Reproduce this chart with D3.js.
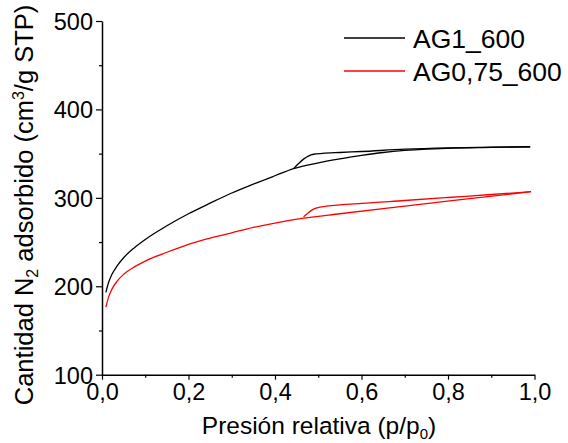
<!DOCTYPE html>
<html>
<head>
<meta charset="utf-8">
<script src="https://cdn.jsdelivr.net/npm/d3@7"></script>
<style>
  html, body { margin: 0; padding: 0; background: #fff; }
  svg { display: block; font-family: "Liberation Sans", Arial, sans-serif; }
</style>
</head>
<body>
<svg id="chart" width="568" height="443"></svg>
<script>
// ---- Data ----
const seriesNames = ["AG1_600", "AG0,75_600"];
const seriesColors = ["#000000", "#ff0000"];

// AG1_600 adsorption branch
const ag1AdsP = [0.009, 0.015, 0.023, 0.035, 0.05, 0.075, 0.1, 0.15, 0.2, 0.25, 0.3, 0.35, 0.4, 0.443, 0.5, 0.55, 0.6, 0.65, 0.7, 0.75, 0.8, 0.9, 0.99];
const ag1AdsV = [193.2, 204, 213.5, 223, 232.3, 243.7, 253, 268.4, 282, 294, 305.5, 315.5, 325, 333, 339.5, 344, 348, 351.3, 353.6, 355.1, 356, 357, 357.8];
// AG1_600 desorption branch
const ag1DesP = [0.443, 0.454, 0.466, 0.478, 0.489, 0.51, 0.55, 0.6, 0.7, 0.8, 0.9, 0.99];
const ag1DesV = [333, 338.5, 343.8, 347.5, 349.3, 350.3, 351.3, 352.4, 355, 356.5, 357.3, 357.8];

// AG0,75_600 adsorption branch
const ag075AdsP = [0.009, 0.015, 0.023, 0.035, 0.05, 0.075, 0.1, 0.15, 0.2, 0.25, 0.3, 0.35, 0.4, 0.466, 0.55, 0.65, 0.75, 0.85, 0.992];
const ag075AdsV = [176.5, 187.5, 196.8, 205.8, 213.5, 222, 228.5, 238.5, 247.5, 254.5, 260.5, 266.5, 271.5, 277, 282, 287.8, 293.4, 299.1, 307];
// AG0,75_600 desorption branch
const ag075DesP = [0.466, 0.478, 0.489, 0.5, 0.512, 0.6, 0.7, 0.8, 0.9, 0.992];
const ag075DesV = [278.7, 283.5, 287.2, 289, 290, 293.7, 297, 300.4, 303.8, 307];

const xTicks = [0, 0.2, 0.4, 0.6, 0.8, 1.0];
const xMinorTicks = [0.1, 0.3, 0.5, 0.7, 0.9];
const yTicks = [100, 200, 300, 400, 500];
const yMinorTicks = [150, 250, 350, 450];

// ---- Layout ----
const svg = d3.select("#chart");
const x = d3.scaleLinear().domain([0, 1]).range([102, 534.5]);
const y = d3.scaleLinear().domain([100, 500]).range([374.7, 21]);
const fmt = d => d3.format(".1f")(d).replace(".", ",");

// minor ticks
svg.append("g")
  .attr("transform", `translate(0,${y(100)})`)
  .call(d3.axisBottom(x).tickValues(xMinorTicks).tickSize(3).tickFormat(""))
  .call(g => g.select(".domain").remove())
  .call(g => g.selectAll("line").attr("stroke", "#000").attr("stroke-width", 1.2));
svg.append("g")
  .attr("transform", `translate(${x(0)},0)`)
  .call(d3.axisLeft(y).tickValues(yMinorTicks).tickSize(3).tickFormat(""))
  .call(g => g.select(".domain").remove())
  .call(g => g.selectAll("line").attr("stroke", "#000").attr("stroke-width", 1.2));

// major axes
const xAxis = svg.append("g")
  .attr("transform", `translate(0,${y(100)})`)
  .call(d3.axisBottom(x).tickValues(xTicks).tickSize(5).tickSizeOuter(0).tickPadding(6).tickFormat(fmt));
const yAxis = svg.append("g")
  .attr("transform", `translate(${x(0)},0)`)
  .call(d3.axisLeft(y).tickValues(yTicks).tickSize(6).tickSizeOuter(0).tickPadding(3).tickFormat(d3.format("d")));
[xAxis, yAxis].forEach(a => {
  a.select(".domain").attr("stroke", "#000").attr("stroke-width", 1.5);
  a.selectAll(".tick line").attr("stroke", "#000").attr("stroke-width", 1.2);
  a.selectAll(".tick text").attr("fill", "#000").style("font-size", "23.5px")
    .style("font-family", '"Liberation Sans", Arial, sans-serif');
});
xAxis.selectAll(".tick text").attr("dy", "0.71em").attr("y", 9);
yAxis.selectAll(".tick text").attr("dy", "0.36em");

// ---- Curves ----
const lineFn = d3.line().x(d => x(d[0])).y(d => y(d[1])).curve(d3.curveMonotoneX);
const zip = (a, b) => a.map((v, i) => [v, b[i]]);
const curves = [
  { pts: zip(ag1AdsP, ag1AdsV), c: 0 },
  { pts: zip(ag1DesP, ag1DesV), c: 0 },
  { pts: zip(ag075AdsP, ag075AdsV), c: 1 },
  { pts: zip(ag075DesP, ag075DesV), c: 1 }
];
svg.append("g").selectAll("path").data(curves).join("path")
  .attr("d", d => lineFn(d.pts))
  .attr("fill", "none")
  .attr("stroke", d => seriesColors[d.c])
  .attr("stroke-width", 1.3);

// ---- Legend ----
const legend = svg.append("g");
seriesNames.forEach((name, i) => {
  const yy = 38 + i * 33;
  legend.append("line").attr("x1", 344).attr("x2", 405).attr("y1", yy).attr("y2", yy)
    .attr("stroke", seriesColors[i]).attr("stroke-width", 1.3);
  legend.append("text").attr("x", 413).attr("y", yy + 9.5)
    .style("font-size", "26.5px").attr("fill", "#000").text(name);
});

// ---- Axis titles ----
const xt = svg.append("text").attr("x", 319).attr("y", 434).attr("text-anchor", "middle")
  .style("font-size", "24.5px").attr("fill", "#000");
xt.append("tspan").text("Presión relativa (p/p");
xt.append("tspan").attr("dy", 5).style("font-size", "15px").text("0");
xt.append("tspan").attr("dy", -5).text(")");

const yt = svg.append("text").attr("transform", "translate(33,205) rotate(-90)")
  .attr("text-anchor", "middle").style("font-size", "25.5px").attr("fill", "#000");
yt.append("tspan").text("Cantidad N");
yt.append("tspan").attr("dy", 5).style("font-size", "16px").text("2");
yt.append("tspan").attr("dy", -5).text(" adsorbido (cm");
yt.append("tspan").attr("dy", -9).style("font-size", "16px").text("3");
yt.append("tspan").attr("dy", 9).text("/g STP)");
</script>
</body>
</html>
